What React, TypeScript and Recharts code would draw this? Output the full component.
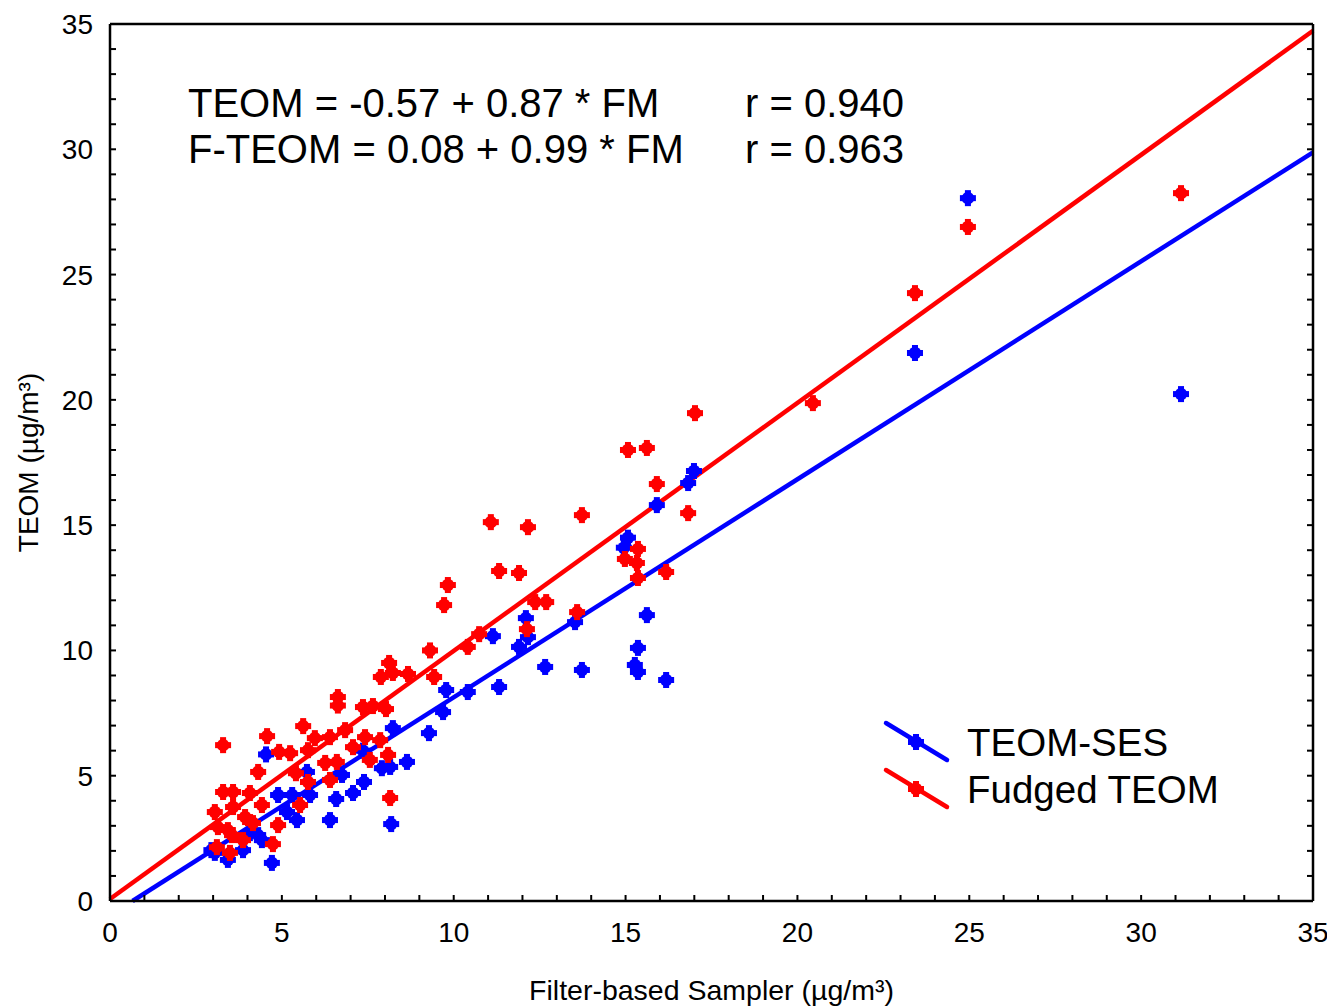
import { ScatterChart, Scatter, XAxis, YAxis, ReferenceLine, Customized } from "recharts";

// TEOM-SES (blue) readings: [filter-based FM, TEOM]
const teomSes: [number, number][] = [
  [2.95, 2.03], [3.05, 1.92], [3.43, 1.64], [3.87, 2.03], [4.07, 2.71], [4.42, 2.43], [4.31, 2.63],
  [4.54, 5.85], [4.71, 1.52], [4.89, 4.23], [5.15, 3.55], [5.3, 4.23], [5.44, 3.23], [5.73, 5.15],
  [5.82, 4.23], [6.4, 3.23], [6.58, 4.07], [6.75, 5.03], [7.07, 4.31], [7.39, 4.75], [7.36, 6.0],
  [7.91, 5.3], [8.15, 5.35], [8.18, 3.07], [8.23, 6.9], [8.64, 5.55], [9.28, 6.7], [9.69, 7.54],
  [9.78, 8.42], [10.41, 8.34], [11.14, 10.57], [11.32, 8.54], [11.9, 10.14], [12.1, 11.29],
  [12.16, 10.53], [12.66, 9.34], [13.53, 11.13], [13.73, 9.22], [14.95, 14.1], [15.07, 14.5],
  [15.27, 9.42], [15.36, 10.1], [15.36, 9.14], [15.62, 11.41], [15.91, 15.8], [16.18, 8.82],
  [16.82, 16.68], [16.99, 17.16], [23.42, 21.87], [24.96, 28.05], [31.16, 20.23],
];

// Fudged TEOM (red) readings
const fudgedTeom: [number, number][] = [
  [3.05, 3.55], [3.11, 2.15], [3.14, 2.95], [3.29, 6.22], [3.29, 4.35], [3.43, 2.83], [3.49, 1.92],
  [3.55, 2.63], [3.58, 4.35], [3.58, 3.75], [3.87, 2.43], [3.93, 3.35], [4.07, 4.31], [4.16, 3.11],
  [4.31, 5.15], [4.42, 3.83], [4.57, 6.58], [4.74, 2.27], [4.89, 3.03], [4.92, 5.95], [5.24, 5.9],
  [5.41, 5.1], [5.53, 3.83], [5.62, 6.98], [5.76, 6.02], [5.76, 4.75], [5.96, 6.5], [6.26, 5.51],
  [6.4, 6.54], [6.4, 4.83], [6.6, 5.55], [6.63, 8.14], [6.63, 7.8], [6.84, 6.82], [7.07, 6.14],
  [7.36, 7.74], [7.42, 6.54], [7.56, 5.63], [7.65, 7.78], [7.86, 6.42], [8.03, 7.66], [8.09, 5.83],
  [8.12, 9.5], [7.88, 8.94], [8.15, 4.11], [8.23, 9.1], [8.67, 9.06], [9.31, 10.0], [9.43, 8.94],
  [9.72, 11.81], [9.83, 12.61], [10.41, 10.14], [10.74, 10.65], [11.08, 15.12], [11.32, 13.17],
  [11.9, 13.09], [12.13, 10.85], [12.16, 14.92], [12.37, 11.93], [12.69, 11.93], [13.59, 11.53],
  [13.73, 15.4], [14.98, 13.65], [15.07, 18.0], [15.33, 13.49], [15.36, 14.05], [15.36, 12.89],
  [15.62, 18.08], [15.91, 16.64], [16.18, 13.13], [16.82, 15.48], [17.02, 19.47], [20.45, 19.87],
  [23.42, 24.26], [24.96, 26.9], [31.16, 28.25],
];

const fitTeom = { intercept: -0.57, slope: 0.87 };
const fitFudged = { intercept: 0.08, slope: 0.99 };
const axisTicks = Array.from({ length: 36 }, (_, i) => i);
const axisMax = 35;

const BLUE = "#0000ff";
const RED = "#ff0000";
const FONT = "'Liberation Sans', Arial, sans-serif";

const toPoints = (rows: [number, number][]) => rows.map(([x, y]) => ({ x, y }));

function Blob({ cx, cy, fill }: any) {
  if (cx == null || cy == null) return null;
  return (
    <g fill={fill}>
      <circle cx={cx} cy={cy} r={6.3} />
      <rect x={cx - 3} y={cy - 8} width={6} height={16} />
      <rect x={cx - 8} y={cy - 3} width={16} height={6} />
    </g>
  );
}

const labelFmt = (v: number) => (v % 5 === 0 ? String(v) : "");
const tickStyle = { fill: "#000", fontSize: 28, fontFamily: FONT };
const lineStyle = { stroke: "#000", strokeWidth: 2.5 };
const tickLineStyle = { stroke: "#000", strokeWidth: 2 };

function Annotations() {
  const eq = { fontFamily: FONT, fontSize: 40, fill: "#000" };
  const lg = { fontFamily: FONT, fontSize: 38.5, fill: "#000" };
  return (
    <g>
      <text x={188} y={117} {...eq}>TEOM = -0.57 + 0.87 * FM</text>
      <text x={745} y={117} {...eq}>r = 0.940</text>
      <text x={188} y={163} {...eq}>F-TEOM = 0.08 + 0.99 * FM</text>
      <text x={745} y={163} {...eq}>r = 0.963</text>

      <line x1={886} y1={723} x2={947} y2={760} stroke={BLUE} strokeWidth={4.5} strokeLinecap="round" />
      <Blob cx={916} cy={742} fill={BLUE} />
      <text x={967} y={756} {...lg}>TEOM-SES</text>
      <line x1={886} y1={770} x2={947} y2={807} stroke={RED} strokeWidth={4.5} strokeLinecap="round" />
      <Blob cx={916} cy={789} fill={RED} />
      <text x={967} y={803} {...lg}>Fudged TEOM</text>
    </g>
  );
}

export default function App() {
  const teomStart = -fitTeom.intercept / fitTeom.slope;
  return (
    <div style={{ background: "#fff" }}>
      <style>{`body{margin:0;}`}</style>
      <ScatterChart width={1327} height={1006} margin={{ top: 23, right: 13, bottom: 0, left: 0 }}>
        <XAxis
          xAxisId={0}
          type="number"
          dataKey="x"
          domain={[0, axisMax]}
          ticks={axisTicks}
          interval={0}
          tickFormatter={labelFmt}
          tickSize={-6}
          tickMargin={27}
          height={105}
          axisLine={lineStyle}
          tickLine={tickLineStyle}
          tick={tickStyle}
          allowDataOverflow
          label={{ value: "Filter-based Sampler (µg/m³)", position: "insideBottom", offset: 6, style: { fontSize: 28.5, fontFamily: FONT, fill: "#000" } }}
        />
        <XAxis
          xAxisId="top"
          orientation="top"
          type="number"
          domain={[0, axisMax]}
          ticks={axisTicks}
          interval={0}
          tickFormatter={() => ""}
          tickSize={-6}
          height={1}
          axisLine={lineStyle}
          tickLine={tickLineStyle}
          allowDataOverflow
        />
        <YAxis
          yAxisId={0}
          type="number"
          dataKey="y"
          domain={[0, axisMax]}
          ticks={axisTicks}
          interval={0}
          tickFormatter={labelFmt}
          tickSize={-6}
          tickMargin={23}
          width={110}
          axisLine={lineStyle}
          tickLine={tickLineStyle}
          tick={tickStyle}
          allowDataOverflow
          label={{ value: "TEOM (µg/m³)", angle: -90, position: "insideLeft", offset: 28, style: { textAnchor: "middle", fontSize: 28, fontFamily: FONT, fill: "#000" } }}
        />
        <YAxis
          yAxisId="right"
          orientation="right"
          type="number"
          domain={[0, axisMax]}
          ticks={axisTicks}
          interval={0}
          tickFormatter={() => ""}
          tickSize={-6}
          width={1}
          axisLine={lineStyle}
          tickLine={tickLineStyle}
          allowDataOverflow
        />
        <Scatter name="TEOM-SES" data={toPoints(teomSes)} fill={BLUE} shape={<Blob />} isAnimationActive={false} />
        <Scatter name="Fudged TEOM" data={toPoints(fudgedTeom)} fill={RED} shape={<Blob />} isAnimationActive={false} />
        <ReferenceLine
          segment={[
            { x: teomStart, y: 0 },
            { x: axisMax, y: fitTeom.intercept + fitTeom.slope * axisMax },
          ]}
          stroke={BLUE}
          strokeWidth={4.5}
        />
        <ReferenceLine
          segment={[
            { x: 0, y: fitFudged.intercept },
            { x: axisMax, y: fitFudged.intercept + fitFudged.slope * axisMax },
          ]}
          stroke={RED}
          strokeWidth={4.5}
        />
        <Customized component={Annotations} />
      </ScatterChart>
    </div>
  );
}
